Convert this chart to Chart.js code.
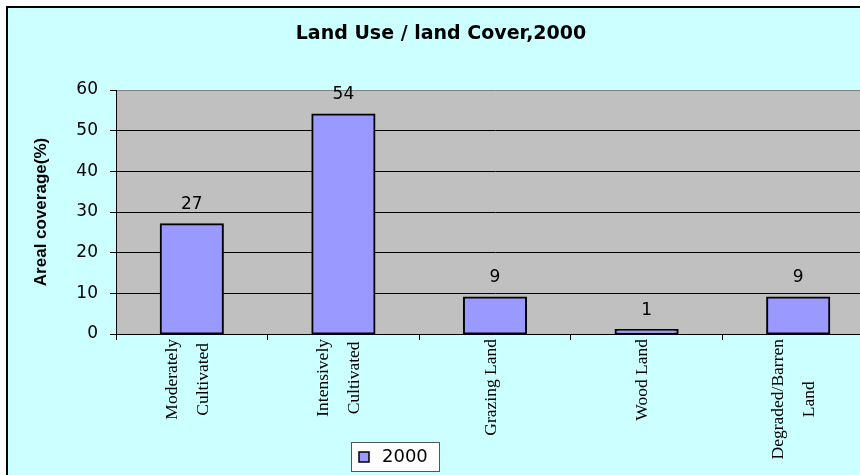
<!DOCTYPE html>
<html><head><meta charset="utf-8">
<script src="https://cdn.jsdelivr.net/npm/chart.js@4.4.0/dist/chart.umd.min.js"></script>
<style>
html,body{margin:0;padding:0;background:#fff;overflow:hidden;width:860px;height:475px;}
#frame{position:absolute;left:6px;top:6px;width:880px;height:470px;border:2px solid #000;background:#CCFFFF;}
canvas{display:block;}
</style></head><body>
<div id="frame"><canvas id="c" width="880" height="470"></canvas></div>
<script>
const chartTitle = 'Land Use / land Cover,2000';
const yAxisTitle = 'Areal coverage(%)';
const categories = [['Moderately','Cultivated'], ['Intensively','Cultivated'], 'Grazing Land', 'Wood Land', ['Degraded/Barren','Land']];
const seriesName = '2000';
const values2000 = [27, 54, 9, 1, 9];
const yTicks = [0, 10, 20, 30, 40, 50, 60];

const plotBg = {
  id: 'plotBg',
  beforeDraw(chart) {
    const {ctx, chartArea: a} = chart;
    ctx.save();
    ctx.fillStyle = '#C0C0C0';
    ctx.fillRect(a.left, a.top, a.right - a.left, a.bottom - a.top);
    ctx.restore();
  }
};

const valueLabels = {
  id: 'valueLabels',
  afterDatasetsDraw(chart) {
    const ctx = chart.ctx;
    chart.data.datasets.forEach((ds, di) => {
      const meta = chart.getDatasetMeta(di);
      meta.data.forEach((bar, i) => {
        ctx.save();
        ctx.font = '17px "DejaVu Sans"';
        ctx.fillStyle = '#000';
        ctx.textAlign = 'center';
        ctx.textBaseline = 'middle';
        ctx.fillText(String(ds.data[i]), bar.x, bar.y - 19.5);
        ctx.restore();
      });
    });
  }
};

const xLabels = {
  id: 'xLabels',
  afterDraw(chart) {
    const ctx = chart.ctx;
    const xs = chart.scales.x;
    const blockTop = 331;
    const lineGap = 31;
    ctx.save();
    ctx.font = '17.5px "Liberation Serif"';
    ctx.fillStyle = '#000';
    ctx.textAlign = 'center';
    ctx.textBaseline = 'middle';
    chart.data.labels.forEach((lab, i) => {
      const lines = Array.isArray(lab) ? lab : [lab];
      const n = lines.length;
      const maxLen = Math.max(...lines.map(l => ctx.measureText(l).width));
      const cx = xs.getPixelForTick(i) - 4;
      lines.forEach((line, j) => {
        ctx.save();
        ctx.translate(cx + (j - (n - 1) / 2) * lineGap, blockTop + maxLen / 2);
        ctx.rotate(-Math.PI / 2);
        ctx.fillText(line, 0, 0);
        ctx.restore();
      });
    });
    ctx.restore();
  }
};

const boxLegend = {
  id: 'boxLegend',
  afterDraw(chart) {
    const ctx = chart.ctx;
    const ds = chart.data.datasets[0];
    const bx = 343, by = 434, bw = 89, bh = 30;
    ctx.save();
    ctx.fillStyle = '#FFFFFF';
    ctx.fillRect(bx, by, bw, bh);
    ctx.strokeStyle = '#555555';
    ctx.lineWidth = 1;
    ctx.strokeRect(bx + 0.5, by + 0.5, bw - 1, bh - 1);
    ctx.fillStyle = ds.backgroundColor;
    ctx.fillRect(bx + 8, by + 10, 10, 10);
    ctx.strokeStyle = '#000';
    ctx.lineWidth = 1.5;
    ctx.strokeRect(bx + 8, by + 10, 10, 10);
    ctx.fillStyle = '#000';
    ctx.font = '18px "DejaVu Sans"';
    ctx.textAlign = 'left';
    ctx.textBaseline = 'middle';
    ctx.fillText(ds.label, bx + 31, by + bh / 2);
    ctx.restore();
  }
};

new Chart(document.getElementById('c'), {
  type: 'bar',
  data: {
    labels: categories,
    datasets: [{
      label: seriesName,
      data: values2000,
      backgroundColor: '#9999FF',
      borderColor: '#000000',
      borderWidth: 2,
      borderSkipped: false,
      inflateAmount: 1,
      barPercentage: 0.41,
      categoryPercentage: 1.0
    }]
  },
  options: {
    responsive: false,
    animation: false,
    layout: { padding: { left: 0, right: 14, top: 0, bottom: 0 } },
    plugins: {
      legend: { display: false },
      tooltip: { enabled: false },
      title: {
        display: true,
        text: chartTitle,
        color: '#000',
        font: { family: '"DejaVu Sans"', size: 19, weight: 'bold', lineHeight: 1.2 },
        padding: { top: 14.4, bottom: 44.8 }
      }
    },
    scales: {
      x: {
        grid: { display: true, drawOnChartArea: false, drawTicks: true, tickLength: 6, tickColor: '#000', offset: true },
        border: { display: true, color: '#000', width: 1 },
        ticks: { display: false },
        afterFit(scale) { scale.height = 470 - 326; }
      },
      y: {
        min: yTicks[0],
        max: yTicks[yTicks.length - 1],
        ticks: {
          stepSize: yTicks[1] - yTicks[0],
          color: '#000',
          padding: 12,
          font: { family: '"DejaVu Sans"', size: 17 }
        },
        grid: {
          color: (c) => (c.tick && c.tick.value === yTicks[yTicks.length - 1]) ? '#808080' : '#000000',
          lineWidth: 1,
          tickLength: 6,
          tickColor: '#000'
        },
        border: { display: true, color: '#000', width: 1 },
        title: {
          display: true,
          text: yAxisTitle,
          color: '#000',
          font: { family: '"Liberation Sans"', size: 17, weight: 'bold', lineHeight: 1.2 },
          padding: { top: 22.8, bottom: 0 }
        },
        afterFit(scale) { scale.width = 108; }
      }
    }
  },
  plugins: [plotBg, valueLabels, xLabels, boxLegend]
});
</script>
</body></html>
